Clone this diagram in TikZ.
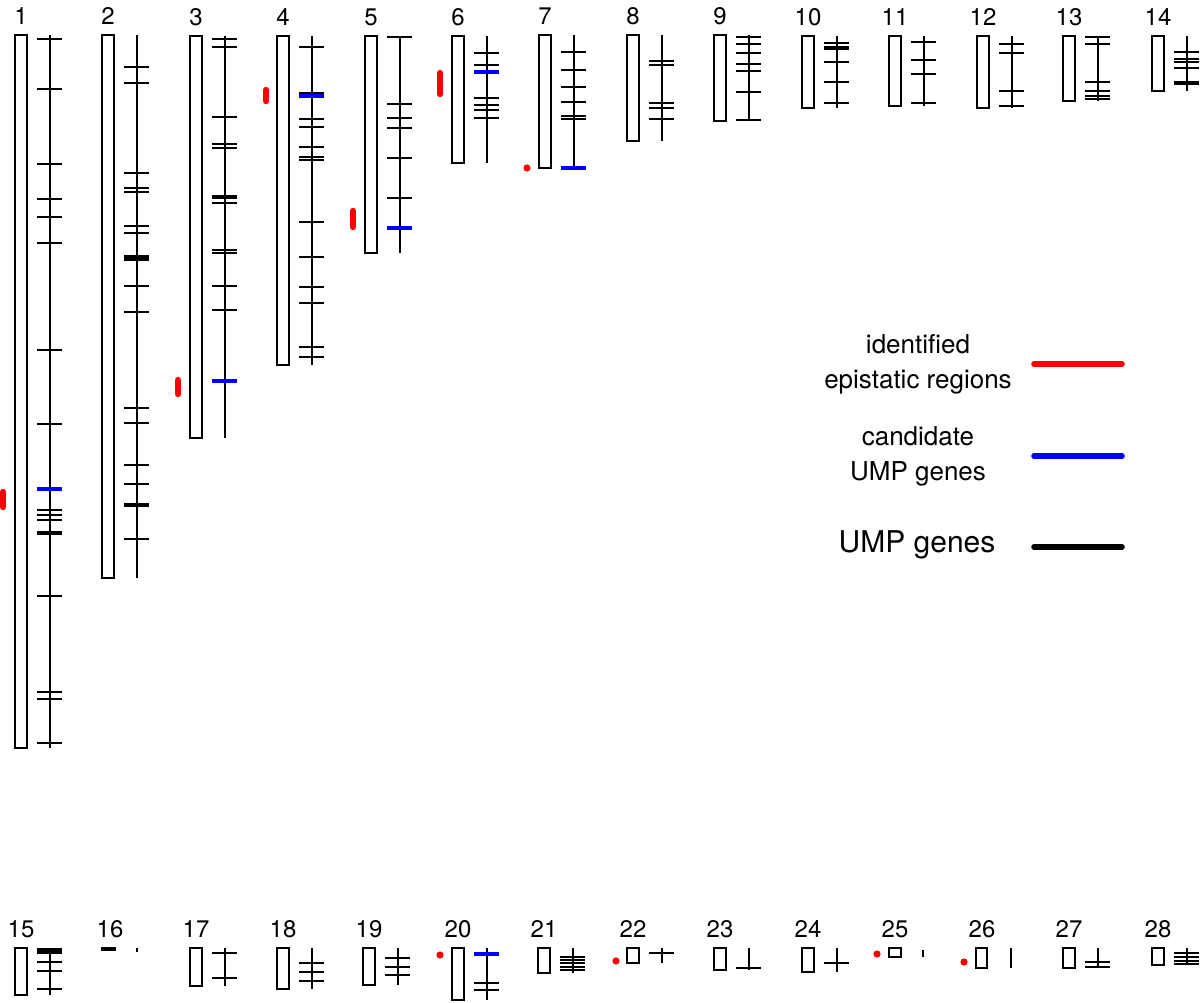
\documentclass[tikz,border=0pt]{standalone}
\usepackage{fontspec}
\setmainfont{TeX Gyre Heros}
\usepackage{xcolor}
\usepackage{tikz}

% one chromosome: left x, number, top y, bottom y, gene positions
\newcommand{\chromo}[5]{%
  \draw[chrbox] (#1,#3) rectangle (#1+12,#4);
  \draw[chrline] (#1+35,#3) -- (#1+35,#4);
  \foreach \t in {#5} {\draw[gene] (#1+22,\t) -- (#1+47,\t);}
  \node[num] (chr#2) at (#1+6,#3-19) {#2};
}

\begin{document}
\begin{tikzpicture}[
x=0.5pt, y=-0.5pt,
chrbox/.style={draw, line width=1.4pt},
chrline/.style={line width=1.35pt},
gene/.style={line width=1.4pt},
cand/.style={blue, line width=2.1pt},
region/.style={red, line width=3.2pt, line cap=round},
num/.style={inner sep=0pt, font=\fontsize{12}{14}\selectfont},
legtext/.style={inner sep=0pt, align=center, font=\fontsize{13}{17.5}\selectfont},
legline/.style={line width=2.8pt, line cap=round}
]
\useasboundingbox (0,0) rectangle (1200,1002);

% top row
\chromo{15}{1}{35}{748}{39,89,164,199,217,243,350,424,510,515,520,532,534,596,692,699,743}
\chromo{102}{2}{35}{578}{67,83,173,188,192,226,233,256,258,260,286,312,408,423,465,484,504,506,539}
\chromo{190}{3}{36}{438}{39,47,117,144,148,196,198,203,250,253,286,310}
\chromo{277}{4}{36}{365}{47,93,119,127,147,157,160,222,257,287,303,347,357}
\chromo{365}{5}{36}{253}{37,104,118,128,158,198}
\chromo{452}{6}{36}{163}{53,65,98,105,110,118}
\chromo{539}{7}{35}{168}{52,70,87,102,116,119}
\chromo{627}{8}{35}{141}{61,65,103,108,119}
\chromo{714}{9}{35}{121}{37,44,53,64,71,92,120}
\chromo{802}{10}{36}{108}{43,47,49,62,82,103}
\chromo{889}{11}{36}{106}{42,60,74,103}
\chromo{977}{12}{36}{108}{44,53,91,106}
\chromo{1063}{13}{36}{101}{37,44,82,91,96,99}
\chromo{1152}{14}{36}{91}{52,59,62,68,82,84}

% bottom row
\chromo{15}{15}{948}{995}{949,951,953,962,971,989}
\draw[chrbox, fill] (102,948) rectangle (115,950);
\draw[chrline] (137,948) -- (137,952);
\node[num] (chr16) at (110,929) {16};
\chromo{190}{17}{948}{986}{953,978}
\chromo{277}{18}{948}{989}{963,972,981}
\chromo{363}{19}{948}{985}{958,967,975}
\chromo{452}{20}{948}{1000}{983,990}
\chromo{538}{21}{948}{973}{957,960,963,967,970}
\chromo{627}{22}{948}{963}{953}
\chromo{714}{23}{948}{970}{968}
\chromo{802}{24}{948}{972}{963}
\draw[chrbox] (889,948) rectangle (901,957);
\draw[chrline] (923,950) -- (923,957);
\node[num] (chr25) at (895,929) {25};
\draw[chrbox] (976,948) rectangle (987,968);
\draw[chrline] (1011,948) -- (1011,968);
\node[num] (chr26) at (982,929) {26};
\chromo{1063}{27}{948}{968}{962,967}
\chromo{1152}{28}{948}{965}{953,957,961,964}

% candidate genes
\draw[cand] (37,489) -- (62,489);
\draw[cand] (212,381) -- (237,381);
\draw[cand] (299,96) -- (324,96);
\draw[cand] (387,228) -- (412,228);
\draw[cand] (474,72) -- (499,72);
\draw[cand] (561,168) -- (586,168);
\draw[cand] (474,954) -- (499,954);

% epistatic regions
\draw[region] (3,492) -- (3,507);
\draw[region] (178,380) -- (178,394);
\draw[region] (266,90) -- (266,101);
\draw[region] (353,211) -- (353,227);
\draw[region] (440,73) -- (440,94);
\fill[red] (527,168) circle (1.8pt);
\fill[red] (440,955) circle (1.8pt);
\fill[red] (616,961) circle (1.8pt);
\fill[red] (877,954) circle (1.8pt);
\fill[red] (964,962) circle (1.8pt);

% legend
\node[legtext] (legred) at (918,364) {identified\\epistatic regions};
\node[legtext] (legblue) at (918,456) {candidate\\UMP genes};
\node[legtext, font=\fontsize{15}{18}\selectfont] (legblack) at (917,545) {UMP genes};
\draw[legline, red] (1034,364) -- (1122,364);
\draw[legline, blue] (1034,456) -- (1122,456);
\draw[legline] (1034,547) -- (1122,547);

\end{tikzpicture}
\end{document}
